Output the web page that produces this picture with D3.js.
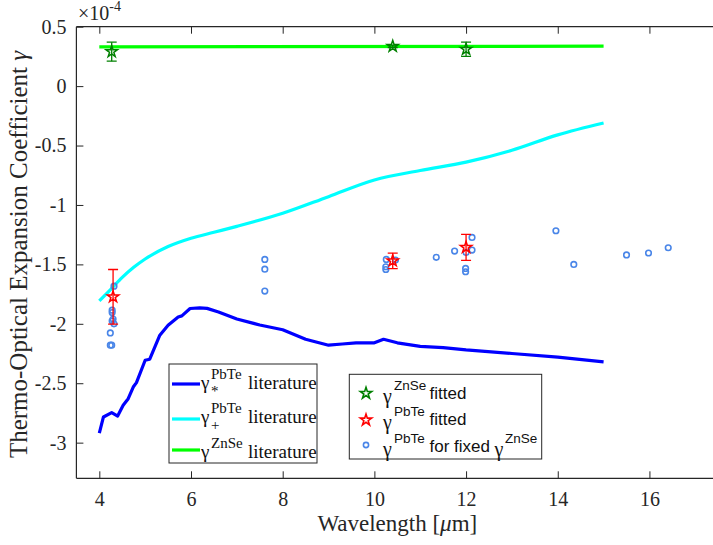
<!DOCTYPE html>
<html><head><meta charset="utf-8">
<script src="https://cdn.jsdelivr.net/npm/d3@7"></script>
<style>
body{margin:0;background:#fff;} svg{display:block;}
svg text, svg tspan { font-family: "Liberation Serif", "Times New Roman", Times, serif; }
svg .sans { font-family: "Liberation Sans", Arial, Helvetica, sans-serif; }
</style>
</head><body>
<svg id="chart" width="713" height="545"></svg>
<script>
// ---------- data ----------
const xTicks = [4, 6, 8, 10, 12, 14, 16];
const yTicks = [0.5, 0, -0.5, -1, -1.5, -2, -2.5, -3];
const yTickLabels = ["0.5", "0", "-0.5", "-1", "-1.5", "-2", "-2.5", "-3"];

// gamma_* PbTe literature (blue)
const starLitX = [4.0, 4.09, 4.27, 4.4, 4.52, 4.63, 4.74, 4.81, 5.0, 5.1, 5.32, 5.5, 5.72, 5.8, 5.98, 6.19, 6.35, 6.6, 7.0, 7.5, 8.0, 8.5, 9.0, 9.3, 9.6, 10.0, 10.2, 10.5, 11.0, 11.5, 12.0, 13.0, 14.0, 15.0];
const starLitY = [-2.92, -2.784, -2.747, -2.776, -2.686, -2.63, -2.532, -2.495, -2.307, -2.298, -2.096, -2.012, -1.942, -1.933, -1.871, -1.866, -1.87, -1.9, -1.96, -2.01, -2.05, -2.13, -2.18, -2.17, -2.16, -2.16, -2.13, -2.16, -2.19, -2.2, -2.22, -2.25, -2.28, -2.32];

// gamma_+ PbTe literature (cyan)
const plusLitX = [4.0, 4.25, 4.5, 4.75, 5.0, 5.5, 6.0, 6.5, 7.0, 8.0, 9.0, 10.0, 11.0, 12.0, 13.0, 14.0, 15.0];
const plusLitY = [-1.807, -1.71, -1.61, -1.525, -1.455, -1.35, -1.28, -1.23, -1.18, -1.07, -0.93, -0.79, -0.71, -0.64, -0.54, -0.41, -0.31];

// gamma ZnSe literature (green)
const znLitX = [4.0, 15.0];
const znLitY = [0.33, 0.336];

// fitted values with error bars
const znFitX = [4.27, 10.4, 12.0];
const znFitY = [0.29, 0.335, 0.31];
const znFitErr = [0.08, 0.01, 0.06];

const pbFitX = [4.3, 10.4, 12.0];
const pbFitY = [-1.773, -1.47, -1.357];
const pbFitErr = [0.23, 0.065, 0.11];

// PbTe for fixed ZnSe (circles)
const fixX = [4.32, 4.28, 4.28, 4.3, 4.28, 4.32, 4.24, 4.24, 4.27, 7.61, 7.61, 7.61, 10.26, 10.46, 10.25, 10.25, 11.35, 11.75, 11.99, 11.99, 12.13, 12.13, 12.0, 13.96, 14.35, 15.5, 15.98, 16.41];
const fixY = [-1.683, -1.885, -1.905, -1.96, -1.976, -2.0, -2.077, -2.18, -2.18, -1.458, -1.54, -1.725, -1.458, -1.464, -1.52, -1.543, -1.441, -1.388, -1.534, -1.562, -1.273, -1.38, -1.40, -1.217, -1.50, -1.42, -1.404, -1.36];

// ---------- layout ----------
const svg = d3.select("#chart");
const L = 76.4, R = 718.2, T = 26.7, B = 478.3;
const x = d3.scaleLinear().domain([3.5, 17.5]).range([L, R]);
const y = d3.scaleLinear().domain([-3.3, 0.5]).range([B, T]);
const axisCol = "#262626";

svg.append("defs").append("clipPath").attr("id", "clip")
  .append("rect").attr("x", L).attr("y", T).attr("width", R - L).attr("height", B - T);

// axes
const gx = svg.append("g").attr("transform", `translate(0,${B})`)
  .call(d3.axisBottom(x).tickValues(xTicks).tickSize(-7).tickPadding(14).tickFormat(d3.format("d")));
const gxTop = svg.append("g").attr("transform", `translate(0,${T})`)
  .call(d3.axisTop(x).tickValues(xTicks).tickSize(-7).tickFormat(""));
const gy = svg.append("g").attr("transform", `translate(${L},0)`)
  .call(d3.axisLeft(y).tickValues(yTicks).tickSize(-7).tickPadding(10).tickFormat((d, i) => yTickLabels[i]));
[gx, gxTop, gy].forEach(g => {
  g.attr("font-family", null).attr("font-size", null);
  g.select(".domain").attr("stroke", axisCol).attr("stroke-width", 1.2);
  g.selectAll(".tick line").attr("stroke", axisCol).attr("stroke-width", 1);
  g.selectAll("text").attr("fill", axisCol).style("font-size", "20px");
});
gx.select(".domain").attr("d", `M${L},0H${R}`);
gxTop.select(".domain").attr("d", `M${L},0H${R}`);
gy.select(".domain").attr("d", `M0,${T}V${B}`);

// exponent label
const ex = svg.append("text").attr("x", 78).attr("y", 20).attr("fill", axisCol).style("font-size", "20px");
ex.append("tspan").text("×10");
ex.append("tspan").attr("dy", -9).style("font-size", "14px").text("-4");

// axis labels
const xl = svg.append("text").attr("x", (L + R) / 2).attr("y", 531)
  .attr("text-anchor", "middle").attr("fill", axisCol).style("font-size", "23px");
xl.append("tspan").text("Wavelength [");
xl.append("tspan").style("font-style", "italic").text("μ");
xl.append("tspan").text("m]");

const yl = svg.append("text").attr("transform", `translate(27,${(T + B) / 2 + 2}) rotate(-90)`)
  .attr("text-anchor", "middle").attr("fill", axisCol).style("font-size", "25px");
yl.append("tspan").text("Thermo-Optical Expansion Coefficient ");
yl.append("tspan").style("font-style", "italic").text("γ");

// ---------- marks ----------
const plot = svg.append("g").attr("clip-path", "url(#clip)");
const zip = (a, b) => a.map((v, i) => [v, b[i]]);
const lineLin = d3.line().x(d => x(d[0])).y(d => y(d[1]));
const lineSmooth = d3.line().x(d => x(d[0])).y(d => y(d[1])).curve(d3.curveMonotoneX);

plot.append("path").datum(zip(znLitX, znLitY)).attr("d", lineLin)
  .attr("fill", "none").attr("stroke", "#00ff00").attr("stroke-width", 3.2);
plot.append("path").datum(zip(plusLitX, plusLitY)).attr("d", lineSmooth)
  .attr("fill", "none").attr("stroke", "#00ffff").attr("stroke-width", 3.2);
plot.append("path").datum(zip(starLitX, starLitY)).attr("d", lineLin)
  .attr("fill", "none").attr("stroke", "#0000ff").attr("stroke-width", 3.2).attr("stroke-linejoin", "round");

// circles
const circCol = "#4a86e8";
plot.selectAll("circle.fix").data(zip(fixX, fixY)).join("circle").attr("class", "fix")
  .attr("cx", d => x(d[0])).attr("cy", d => y(d[1])).attr("r", 2.8)
  .attr("fill", "none").attr("stroke", circCol).attr("stroke-width", 1.6);

// error bars + stars
const star = d3.symbol().type(d3.symbolStar).size(40);
function errStars(xs, ys, es, col) {
  const g = plot.append("g");
  xs.forEach((xv, i) => {
    const cx = x(xv), y0 = y(ys[i] - es[i]), y1 = y(ys[i] + es[i]);
    const cw = 5;
    g.append("line").attr("x1", cx).attr("x2", cx).attr("y1", y0).attr("y2", y1).attr("stroke", col).attr("stroke-width", 1.3);
    g.append("line").attr("x1", cx - cw).attr("x2", cx + cw).attr("y1", y0).attr("y2", y0).attr("stroke", col).attr("stroke-width", 1.3);
    g.append("line").attr("x1", cx - cw).attr("x2", cx + cw).attr("y1", y1).attr("y2", y1).attr("stroke", col).attr("stroke-width", 1.3);
    g.append("path").attr("d", star).attr("transform", `translate(${cx},${y(ys[i])})`)
      .attr("fill", "none").attr("stroke", col).attr("stroke-width", 1.5);
  });
}
errStars(znFitX, znFitY, znFitErr, "#008000");
errStars(pbFitX, pbFitY, pbFitErr, "#ff0000");

// ---------- legend 1 (lines) ----------
const lg1 = svg.append("g");
lg1.append("rect").attr("x", 169).attr("y", 364).attr("width", 148).attr("height", 99)
  .attr("fill", "#fff").attr("stroke", "#262626").attr("stroke-width", 1);
const lg1Items = [
  {col: "#0000ff", sup: "PbTe", sub: "*", ly: 384, by: 389},
  {col: "#00ffff", sup: "PbTe", sub: "+", ly: 419, by: 423},
  {col: "#00ff00", sup: "ZnSe", sub: "", ly: 450, by: 458}
];
lg1Items.forEach(it => {
  lg1.append("line").attr("x1", 172).attr("x2", 200).attr("y1", it.ly).attr("y2", it.ly)
    .attr("stroke", it.col).attr("stroke-width", 3.2);
  const t = lg1.append("text").attr("y", it.by).attr("fill", "#111").style("font-size", "19px");
  t.append("tspan").attr("x", 201).text("γ");
  t.append("tspan").attr("x", 211).attr("y", it.by - 10).style("font-size", "15px").text(it.sup);
  if (it.sub) t.append("tspan").attr("x", 211).attr("y", it.by + 7).style("font-size", "15px").text(it.sub);
  t.append("tspan").attr("x", 248).attr("y", it.by).text("literature");
});

// ---------- legend 2 (markers) ----------
const lg2 = svg.append("g");
lg2.append("rect").attr("x", 349.3).attr("y", 374.3).attr("width", 192.4).attr("height", 84.7)
  .attr("fill", "#fff").attr("stroke", "#262626").attr("stroke-width", 1);
const lg2Items = [
  {type: "star", col: "#008000", sup: "ZnSe", txt: "fitted", my: 393.3, by: 398.5},
  {type: "star", col: "#ff0000", sup: "PbTe", txt: "fitted", my: 420, by: 424.5},
  {type: "circ", col: circCol, sup: "PbTe", txt: "for fixed", my: 445, by: 451.5}
];
lg2Items.forEach(it => {
  if (it.type === "star") {
    lg2.append("path").attr("d", star).attr("transform", `translate(366,${it.my})`)
      .attr("fill", "none").attr("stroke", it.col).attr("stroke-width", 1.6);
  } else {
    lg2.append("circle").attr("cx", 366).attr("cy", it.my).attr("r", 2.6)
      .attr("fill", "none").attr("stroke", it.col).attr("stroke-width", 1.6);
  }
  const t = lg2.append("text").attr("y", it.by + 4).attr("fill", "#111").style("font-size", "17px");
  t.append("tspan").attr("x", 383).style("font-size", "20px").text("γ");
  t.append("tspan").attr("class", "sans").attr("x", 394).attr("y", it.by - 9).style("font-size", "13.5px").text(it.sup);
  t.append("tspan").attr("class", "sans").attr("x", 429.5).attr("y", it.by).text(it.txt);
  if (it.type === "circ") {
    t.append("tspan").attr("x", 494.5).attr("y", it.by + 4).style("font-size", "20px").text("γ");
    t.append("tspan").attr("class", "sans").attr("x", 505).attr("y", it.by - 9).style("font-size", "13.5px").text("ZnSe");
  }
});
</script>
</body></html>
